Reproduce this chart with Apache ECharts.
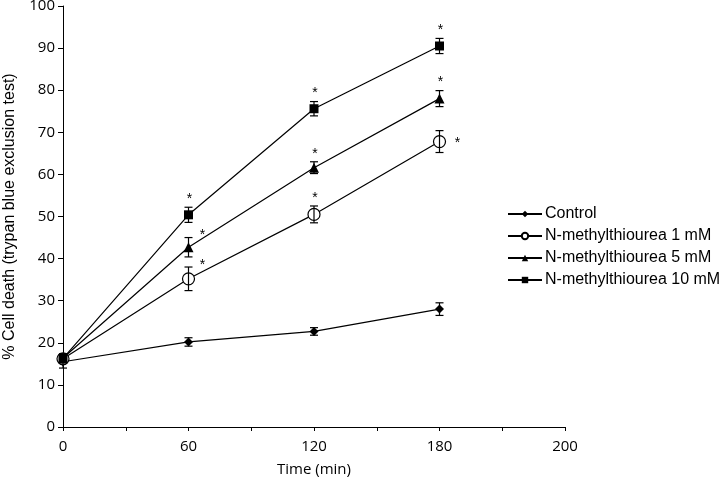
<!DOCTYPE html>
<html><head><meta charset="utf-8">
<script src="https://cdn.jsdelivr.net/npm/echarts@6/dist/echarts.min.js"></script>
<style>html,body{margin:0;padding:0;background:#fff}#c{width:723px;height:483px}</style>
</head><body><div id="c"></div>
<script>
// ---- data ----
const tickLabels = ['0', '60', '120', '180', '200'];
const times = [0, 60, 120, 180];
const seriesNames = ['Control', 'N-methylthiourea 1 mM', 'N-methylthiourea 5 mM', 'N-methylthiourea 10 mM'];
const controlVals = [15.5, 20.2, 22.7, 28.0];
const controlErr  = [1.5, 1.0, 0.9, 1.5];
const nmt1Vals = [16.2, 35.2, 50.5, 67.8];
const nmt1Err  = [1.0, 2.8, 2.0, 2.6];
const nmt5Vals = [16.4, 42.7, 61.6, 78.0];
const nmt5Err  = [1.0, 2.3, 1.4, 1.9];
const nmt10Vals = [16.3, 50.4, 75.6, 90.5];
const nmt10Err  = [1.0, 1.8, 1.7, 1.8];
const controlSig = [0, 0, 0, 0];
const nmt1Sig = [0, 1, 1, 1];
const nmt5Sig = [0, 1, 1, 1];
const nmt10Sig = [0, 1, 1, 1];

// ---- styles ----
const symbols = ['diamond', 'circle', 'triangle', 'rect'];
const symbolSizes = [9, 12, 10, 9];
const fills = ['#000', '#fff', '#000', '#000'];
const starPlace = [
  ['top','top','top','top'],
  ['top','right','top','right'],
  ['top','right','top','top'],
  ['top','top','top','top']
];

const allVals = [controlVals, nmt1Vals, nmt5Vals, nmt10Vals];
const allErr = [controlErr, nmt1Err, nmt5Err, nmt10Err];
const allSig = [controlSig, nmt1Sig, nmt5Sig, nmt10Sig];
const xPos = t => tickLabels.indexOf(String(t));

const series = [];
allVals.forEach((vals, s) => {
  series.push({
    name: seriesNames[s], type: 'line', z: 3,
    data: times.map((t, i) => [xPos(t), vals[i]]),
    symbol: symbols[s], symbolSize: symbolSizes[s], showSymbol: true,
    lineStyle: { color: '#000', width: 1.2 },
    itemStyle: { color: fills[s], borderColor: '#000', borderWidth: s === 1 ? 1.2 : 0 },
    emphasis: { disabled: true }, animation: false
  });
});
allVals.forEach((vals, s) => {
  series.push({
    type: 'custom', z: 4, animation: false, silent: true,
    data: times.map((t, i) => [xPos(t), vals[i], allErr[s][i], allSig[s][i], i]),
    renderItem: (params, api) => {
      const x = api.value(0), v = api.value(1), e = api.value(2), sig = api.value(3), i = api.value(4);
      const hi = api.coord([x, v + e]), lo = api.coord([x, v - e]), c = api.coord([x, v]);
      const cap = 4;
      const style = { stroke: '#000', lineWidth: 1.2 };
      const children = [
        { type: 'line', shape: { x1: hi[0], y1: hi[1], x2: lo[0], y2: lo[1] }, style },
        { type: 'line', shape: { x1: hi[0]-cap, y1: hi[1], x2: hi[0]+cap, y2: hi[1] }, style },
        { type: 'line', shape: { x1: lo[0]-cap, y1: lo[1], x2: lo[0]+cap, y2: lo[1] }, style }
      ];
      if (sig) {
        const place = starPlace[s][i];
        let sx, sy;
        if (place === 'top') { sx = hi[0] + 1; sy = hi[1] - 8; }
        else if (i === 3) { sx = c[0] + 18; sy = c[1] + 2; }
        else { sx = hi[0] + 14; sy = hi[1] - 2; }
        children.push({ type: 'text', style: { text: '*', x: sx, y: sy, fill: '#000',
          font: '14px "Liberation Sans", Arial', textAlign: 'center', textVerticalAlign: 'middle' } });
      }
      return { type: 'group', children };
    }
  });
});

const chart = echarts.init(document.getElementById('c'));
chart.setOption({
  animation: false,
  backgroundColor: '#fff',
  grid: { left: 63, right: 158, top: 6, bottom: 56, containLabel: false, outerBoundsMode: 'none' },
  legend: {
    data: seriesNames,
    orient: 'vertical', left: 502, top: 201, itemGap: 6, itemWidth: 34, itemHeight: 8,
    textStyle: { fontFamily: '"Liberation Sans", Arial', fontSize: 16, color: '#000', padding: [0,0,0,-2] },
    selectedMode: false
  },
  xAxis: {
    type: 'value', min: 0, max: 4, interval: 0.5,
    name: 'Time (min)', nameLocation: 'middle', nameGap: 35,
    nameTextStyle: { fontFamily: '"Open Sans", Lato, sans-serif', fontSize: 15, color: '#000' },
    axisLine: { lineStyle: { color: '#000', width: 1 } },
    axisTick: { show: true, inside: false, length: 4, lineStyle: { color: '#000' } },
    axisLabel: { formatter: v => Number.isInteger(v) ? tickLabels[v] : '', margin: 12,
      fontFamily: '"Open Sans", Lato, sans-serif', fontSize: 15, color: '#000' },
    splitLine: { show: false }
  },
  yAxis: {
    type: 'value', min: 0, max: 100, interval: 10,
    name: '% Cell death (trypan blue exclusion test)', nameLocation: 'middle', nameGap: 45,
    nameTextStyle: { fontFamily: '"Liberation Sans", Arial', fontSize: 16, color: '#000' },
    axisLine: { show: true, lineStyle: { color: '#000', width: 1 } },
    axisTick: { show: true, length: 5, lineStyle: { color: '#000' } },
    axisLabel: { margin: 8, fontFamily: '"Open Sans", Lato, sans-serif', fontSize: 15, color: '#000' },
    splitLine: { show: false }
  },
  series
});
</script></body></html>
